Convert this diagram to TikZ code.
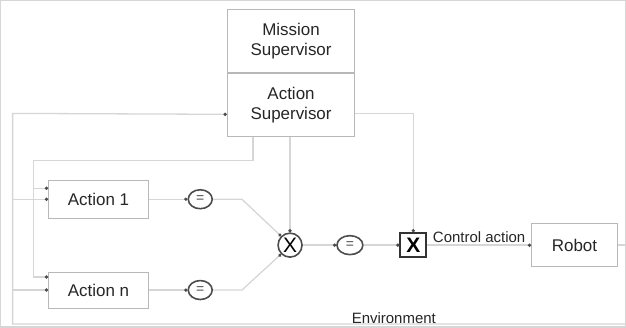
\documentclass[tikz,border=0pt]{standalone}
\usepackage{fontspec}
\setmainfont{Liberation Sans}
\usepackage{tikz}
\usetikzlibrary{arrows.meta,shapes.geometric,positioning}

\begin{document}
\begin{tikzpicture}[x=1pt,y=1pt,->,>={Circle[length=3.2pt,color=black!70]},auto,
        every path/.style={draw=black!16,line width=1.3pt},
        block/.style={rectangle,draw=black!28,line width=0.9pt,minimum width=100pt,
                      minimum height=38pt,align=center,text=black!85,
                      font=\fontsize{17}{20}\selectfont},
        cmp/.style={ellipse,draw=black!70,line width=1.6pt,minimum width=24pt,
                    minimum height=19pt,inner sep=0pt,text=black!70,
                    font=\fontsize{14}{14}\selectfont},
        prod/.style={circle,draw=black!70,line width=1.6pt,minimum size=24pt,
                     inner sep=0pt,font=\fontsize{21}{21}\selectfont},
        sel/.style={rectangle,draw=black!80,line width=1.8pt,fill=white,minimum width=26pt,
                    minimum height=24pt,inner sep=0pt,font=\fontsize{21}{21}\selectfont\bfseries}]

  \useasboundingbox (0,0) rectangle (626,-327);

  % supervisors
  \node[block,minimum width=128pt,minimum height=63pt] (mission) at (291,-40.5) {Mission\\Supervisor};
  \node[block,minimum width=128pt,minimum height=63pt] (actsup) [below=0pt of mission] {Action\\Supervisor};

  % actions and the control chain
  \node[block] (act1) at (98,-199) {Action 1};
  \node[block,minimum height=36pt] (actn) at (98,-290) {Action n};
  \node[cmp] (eq1) [right of=act1,node distance=102pt] {=};
  \node[cmp] (eqn) [right of=actn,node distance=102pt] {=};
  \node[prod] (mult) at (290,-245) {X};
  \node[cmp,minimum width=26pt] (eq3) [right of=mult,node distance=60pt] {=};
  \node[sel] (select) [right of=eq3,node distance=63.5pt] {X};
  \node[block,minimum width=86pt,minimum height=43pt] (robot) [right of=select,node distance=161.5pt] {Robot};
  \node[font=\fontsize{15}{15}\selectfont,text=black!85,inner sep=0pt] (env) at (394,-318) {Environment};

  \coordinate (out) at (626,-245);
  \coordinate (envR) at (626,-324);
  \coordinate (fbB) at (12,-324);
  \coordinate (fbL) at (12,-113);
  \coordinate (bus) at (33,-160);
  \coordinate (a1in) at ([yshift=11pt]act1.west);
  \coordinate (aNin) at ([yshift=13pt]actn.west);

  \path (act1) edge (eq1)
        (actn) edge (eqn)
        (mult) edge (eq3)
        (eq3) edge (select)
        (select) edge node[font=\fontsize{15}{15}\selectfont,text=black!85,inner sep=2pt] {Control action} (robot);
  \draw[-] (robot) -- (out);

  \draw (eq1.east) -- ++(29,0) -- (mult.135);
  \draw (eqn.east) -- ++(29,0) -- (mult.225);

  % environment feedback
  \draw (envR) -- (fbB) -- (fbL) -- ([yshift=-9.5pt]actsup.west);
  \draw (fbL |- act1.west) -- (act1.west);
  \draw (fbL |- actn.west) -- (actn.west);

  % supervisor outputs
  \draw ([xshift=-38pt]actsup.south) |- (bus) |- (aNin);
  \draw (bus |- a1in) -- (a1in);
  \draw (mult |- actsup.south) -- (mult.north);
  \draw ([yshift=-8.5pt]actsup.east) -| (select.north);

\end{tikzpicture}
\end{document}
